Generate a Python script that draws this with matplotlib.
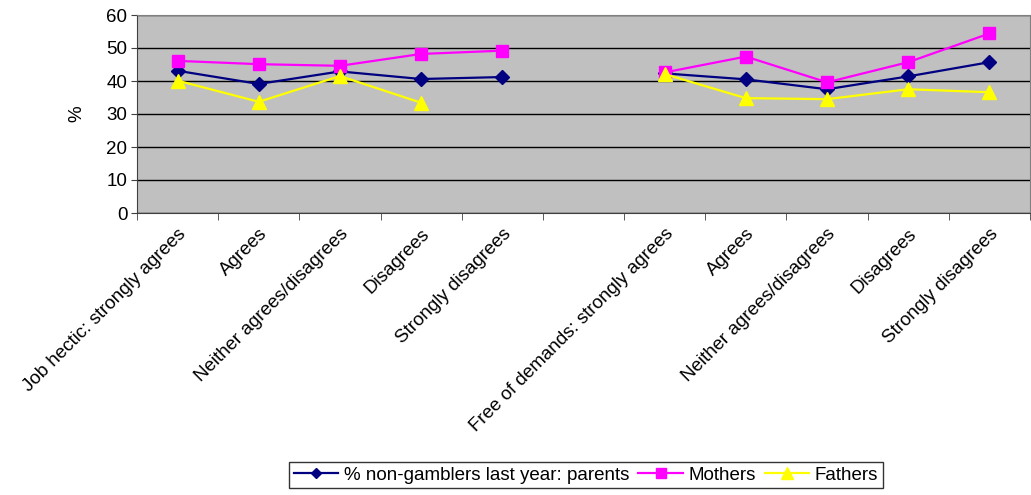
import matplotlib
matplotlib.use('Agg')
import numpy as np
import matplotlib.pyplot as plt

plt.rcParams['font.family'] = ['Liberation Sans', 'DejaVu Sans']

categories = ['Job hectic: strongly agrees', 'Agrees', 'Neither agrees/disagrees',
              'Disagrees', 'Strongly disagrees', '',
              'Free of demands: strongly agrees', 'Agrees', 'Neither agrees/disagrees',
              'Disagrees', 'Strongly disagrees']
nan = np.nan
parents = [43.1, 39.1, 42.9, 40.6, 41.2, nan, 42.3, 40.5, 37.5, 41.4, 45.7]
mothers = [46.1, 45.1, 44.6, 48.2, 49.2, nan, 42.6, 47.4, 39.6, 45.7, 54.4]
fathers = [40.1, 33.7, 41.5, 33.4, nan, nan, 42.1, 34.8, 34.5, 37.5, 36.6]

fs = 13.5

fig = plt.figure(figsize=(10.31, 4.95), dpi=100)
ax = fig.add_axes([137/1031, 1 - 213/495, (1030-137)/1031, (213-15)/495])
ax.set_facecolor('#C0C0C0')

x = np.arange(len(categories))
ax.plot(x, parents, color='#000080', marker='D', markersize=7, lw=1.6,
        label='% non-gamblers last year: parents', zorder=3)
ax.plot(x, mothers, color='#FF00FF', marker='s', markersize=9, lw=1.6,
        label='Mothers', zorder=4)
ax.plot(x, fathers, color='#FFFF00', marker='^', markersize=10, lw=1.6,
        label='Fathers', zorder=5)

ax.set_xlim(-0.5, len(categories) - 0.5)
ax.set_ylim(0, 60)
ax.set_yticks(range(0, 61, 10))
ax.yaxis.grid(True, color='black', lw=1)
ax.set_axisbelow(True)

ax.set_xticks(x)
ax.set_xticklabels(categories, rotation=45, ha='right', va='top',
                   rotation_mode='anchor', fontsize=fs)
ax.tick_params(axis='x', which='major', length=0, pad=9)
ax.set_xticks(np.arange(-0.5, len(categories), 1), minor=True)
ax.tick_params(axis='x', which='minor', length=5, direction='out', color='#404040')
ax.tick_params(axis='y', labelsize=fs, length=4, color='#404040', pad=3)

for s in ['top', 'right']:
    ax.spines[s].set_color('#808080')
for s in ['left', 'bottom']:
    ax.spines[s].set_color('#404040')

ax.set_ylabel('%', fontsize=fs, labelpad=15)

leg = fig.legend(loc='center', bbox_to_anchor=(586/1031, 20/495), ncol=3,
                 fontsize=fs, frameon=True, fancybox=False, edgecolor='black',
                 handlelength=2.35, handletextpad=0.3, columnspacing=0.5,
                 borderpad=0.25, borderaxespad=0, markerscale=0.8)
leg.get_frame().set_linewidth(1)

fig.savefig('out.png', dpi=100)
